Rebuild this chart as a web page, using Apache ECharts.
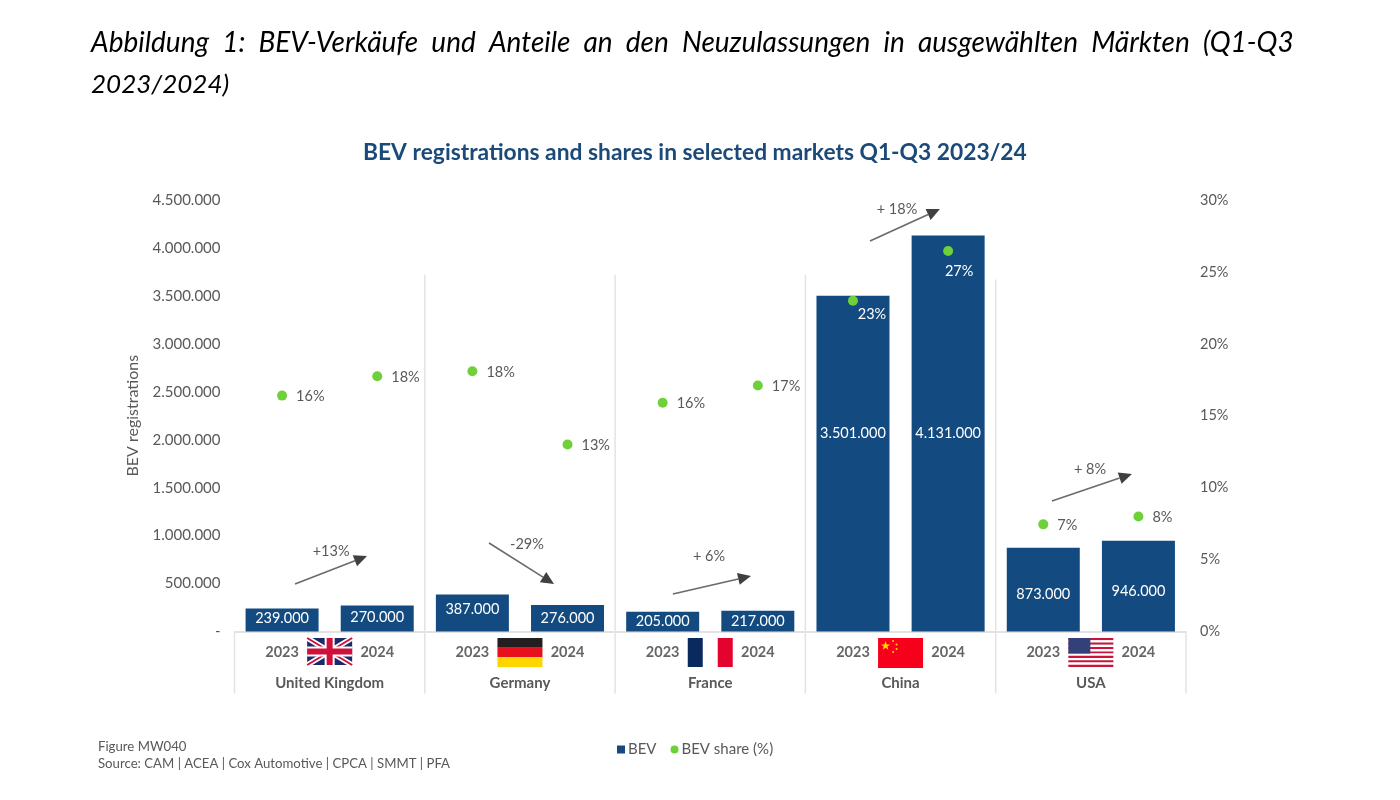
<!DOCTYPE html>
<html><head><meta charset="utf-8">
<style>html,body{margin:0;padding:0;background:#fff}#c{width:1400px;height:800px}</style>
<script src="https://cdn.jsdelivr.net/npm/echarts@6/dist/echarts.min.js"></script>
</head><body><div id="c"></div>
<script>
const yearLabels = ['2023','2024','2023','2024','2023','2024','2023','2024','2023','2024'];
const markets = ['United Kingdom','Germany','France','China','USA'];
const bevValues = [239000,270000,387000,276000,205000,217000,3501000,4131000,873000,946000];
const shareValues = [16.4,17.75,18.1,13,15.9,17.1,23,26.45,7.45,8];
const shareLabels = ['16%','18%','18%','13%','16%','17%','23%','27%','7%','8%'];
const barLabelOffsets = [-2,-1,-4,0,0,0,-30,0,5,5];
const arrows = [
  [0.636,495000,1.393,787000,1.015,840000,'+13%'],
  [2.675,923000,3.358,495000,3.074,912000,'-29%'],
  [4.608,391000,5.428,579000,4.987,787000,'+ 6%'],
  [6.679,4072000,7.414,4406000,6.963,4406000,'+ 18%'],
  [8.591,1361000,9.432,1643000,8.991,1695000,'+ 8%']
];
const separators = [[0,0],[2,3720000],[4,3720000],[6,3720000],[8,3670000],[10,0]];
const flags = [['uk',1],['de',3],['fr',5],['cn',7],['us',9]];

const TXT='#595959', NAVY='#134a80', GREEN='#6fd13a', FONT='Lato';
const fmtDots=v=>v===0?'-':String(v).replace(/\B(?=(\d{3})+$)/g,'.');

function flagShapes(kind,cx,y0){
  const W=45,H=kind==='uk'?27:29, x=cx-W/2, y=y0, out=[];
  const rect=(a,b,w,h,fill)=>out.push({type:'rect',shape:{x:a,y:b,width:w,height:h},style:{fill}});
  const line=(a,b,c,d,w,stroke)=>out.push({type:'line',shape:{x1:a,y1:b,x2:c,y2:d},style:{stroke,lineWidth:w}});
  if(kind==='uk'){
    rect(x,y,W,H,'#1b2a6b');
    line(x,y,x+W,y+H,5.5,'#fff');line(x+W,y,x,y+H,5.5,'#fff');
    line(x,y,x+W,y+H,2,'#d0103a');line(x+W,y,x,y+H,2,'#d0103a');
    rect(x+W/2-5,y,10,H,'#fff');rect(x,y+H/2-5,W,10,'#fff');
    rect(x+W/2-3,y,6,H,'#d0103a');rect(x,y+H/2-3,W,6,'#d0103a');
  } else if(kind==='de'){
    rect(x,y,W,H/3,'#231f20');rect(x,y+H/3,W,H/3,'#e8101c');rect(x,y+2*H/3,W,H/3,'#ffd500');
  } else if(kind==='fr'){
    rect(x,y,15,H,'#0a2a5e');rect(x+30,y,15,H,'#e4032e');
  } else if(kind==='cn'){
    rect(x,y,W,H+1,'#f7001b');
    out.push({type:'path',shape:{pathData:'M0,-5 L1.3,-1.6 L4.8,-1.6 L2,0.6 L3,4 L0,2 L-3,4 L-2,0.6 L-4.8,-1.6 L-1.3,-1.6 Z',x:x+3,y:y+3,width:9,height:9},style:{fill:'#ffd800'}});
    [[15,3],[18.5,6.5],[18.5,11],[15,14]].forEach(p=>out.push({type:'circle',shape:{cx:x+p[0],cy:y+p[1],r:1},style:{fill:'#ffd800'}}));
  } else {
    for(let i=0;i<13;i++) rect(x,y+i*H/13,W,H/13,i%2?'#fff':'#c8133b');
    rect(x,y,22,H*7/13,'#33407a');
  }
  return out;
}

const option={
  animation:false,
  backgroundColor:'#fff',
  textStyle:{fontFamily:FONT},
  title:[
    {text:'Abbildung  1:  BEV-Verkäufe  und  Anteile  an  den  Neuzulassungen  in  ausgewählten  Märkten  (Q1-Q3',left:91,top:29,textStyle:{fontFamily:FONT,fontStyle:'italic',fontWeight:'normal',fontSize:28,color:'#000'},padding:0},
    {text:'2023/2024)',left:91,top:72,textStyle:{fontFamily:FONT,fontStyle:'italic',fontWeight:'normal',fontSize:26,color:'#000'},padding:0},
    {text:'BEV registrations and shares in selected markets Q1-Q3 2023/24',left:363,top:141,textStyle:{fontFamily:FONT,fontWeight:'bold',fontSize:22.8,color:'#1c4a78'},padding:0},
    {text:'Figure MW040\nSource: CAM | ACEA | Cox Automotive | CPCA | SMMT | PFA',left:98,top:738,textStyle:{fontFamily:FONT,fontWeight:'normal',fontSize:13.2,lineHeight:17,color:TXT},padding:0}
  ],
  legend:{left:617,top:742,itemWidth:8,itemHeight:8,itemGap:14,padding:0,
    textStyle:{fontFamily:FONT,fontSize:15,color:TXT,padding:[0,0,0,-2]},
    data:[{name:'BEV',icon:'rect'},{name:'BEV share (%)',icon:'circle'}]},
  grid:{left:234.5,right:214,top:200,height:431.5},
  xAxis:[
    {type:'category',data:yearLabels,axisTick:{show:false},axisLine:{lineStyle:{color:'#d9d9d9',width:1.5}},
     axisLabel:{interval:0,margin:13,fontFamily:FONT,fontSize:14.5,fontWeight:'bold',color:'#666'}},
    {type:'value',min:0,max:10,show:false},
    {type:'category',position:'bottom',offset:40,data:markets,axisTick:{show:false},axisLine:{show:false},
     axisLabel:{interval:0,margin:4,fontFamily:FONT,fontSize:15,fontWeight:'bold',color:TXT}}
  ],
  yAxis:[
    {type:'value',min:0,max:4500000,interval:500000,name:'BEV registrations',nameLocation:'middle',nameGap:94,
     nameTextStyle:{fontFamily:FONT,fontSize:16,color:TXT},
     axisLine:{show:false},axisTick:{show:false},splitLine:{show:false},
     axisLabel:{margin:14,formatter:fmtDots,fontFamily:FONT,fontSize:15,color:TXT}},
    {type:'value',min:0,max:30,interval:5,position:'right',axisLine:{show:false},axisTick:{show:false},splitLine:{show:false},
     axisLabel:{margin:14,formatter:'{value}%',fontFamily:FONT,fontSize:14.5,color:TXT}}
  ],
  series:[
    {name:'BEV',type:'bar',xAxisIndex:0,yAxisIndex:0,barWidth:73,itemStyle:{color:NAVY},z:2,
     data:bevValues.map((v,i)=>({value:v,label:{offset:[0,barLabelOffsets[i]]}})),
     label:{show:true,position:'inside',formatter:p=>fmtDots(p.value),fontFamily:FONT,fontSize:14.5,color:'#fff'}},
    {name:'BEV share (%)',type:'scatter',xAxisIndex:0,yAxisIndex:1,symbolSize:10,itemStyle:{color:GREEN,opacity:1},z:4,
     data:shareValues.map((v,i)=>{
       const cn=i===6||i===7;
       return {value:[i,v],label:{position:cn?'bottom':'right',distance:cn?3:9,offset:cn?[i===6?19:11,i===6?-2:5]:[0,1],color:cn?'#fff':TXT}};
     }),
     label:{show:true,formatter:p=>shareLabels[p.dataIndex],fontFamily:FONT,fontSize:14.5}},
    {name:'separators',type:'custom',xAxisIndex:1,yAxisIndex:0,z:1,silent:true,clip:false,
     data:separators,
     renderItem:(ctx,api)=>{
       const top=api.coord([api.value(0),api.value(1)]), base=api.coord([api.value(0),0]);
       return {type:'line',shape:{x1:top[0],y1:top[1],x2:top[0],y2:base[1]+62},style:{stroke:'#e3e3e3',lineWidth:1.5}};
     }},
    {name:'flags',type:'custom',xAxisIndex:1,yAxisIndex:0,z:3,silent:true,clip:false,
     data:flags.map(f=>[f[1],0,f[0]]),
     encode:{x:0,y:1},
     renderItem:(ctx,api)=>{
       const p=api.coord([api.value(0),0]);
       return {type:'group',children:flagShapes(flags[ctx.dataIndex][0],p[0],p[1]+6.5)};
     }},
    {name:'arrows',type:'custom',xAxisIndex:1,yAxisIndex:0,z:5,silent:true,clip:false,
     data:arrows.map(a=>a.slice(0,6)),
     encode:{x:[0,2,4],y:[1,3,5]},
     renderItem:(ctx,api)=>{
       const a=api.coord([api.value(0),api.value(1)]), b=api.coord([api.value(2),api.value(3)]), t=api.coord([api.value(4),api.value(5)]);
       const ang=Math.atan2(b[1]-a[1],b[0]-a[0]), L=13, W=6;
       const bx=b[0]-L*Math.cos(ang), by=b[1]-L*Math.sin(ang), nx=-Math.sin(ang)*W, ny=Math.cos(ang)*W;
       return {type:'group',children:[
         {type:'line',shape:{x1:a[0],y1:a[1],x2:bx,y2:by},style:{stroke:'#6a6a6a',lineWidth:1.6}},
         {type:'polygon',shape:{points:[[b[0],b[1]],[bx+nx,by+ny],[bx-nx,by-ny]]},style:{fill:'#404040'}},
         {type:'text',x:t[0],y:t[1],style:{text:arrows[ctx.dataIndex][6],fontFamily:FONT,fontSize:14.5,fill:TXT,align:'center',verticalAlign:'middle'}}
       ]};
     }}
  ]
};
echarts.init(document.getElementById('c'),null,{renderer:'canvas'}).setOption(option);
</script></body></html>
